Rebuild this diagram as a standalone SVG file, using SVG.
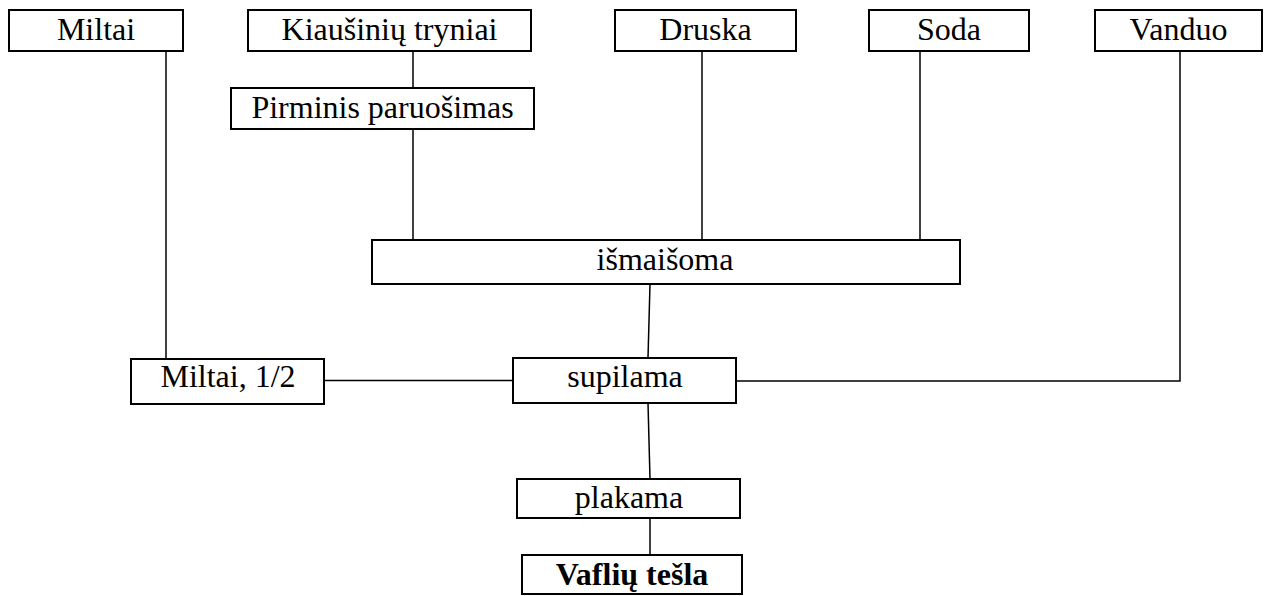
<svg xmlns="http://www.w3.org/2000/svg" width="1267" height="596" viewBox="0 0 1267 596">
<style>
rect{fill:#fff;stroke:#000;stroke-width:2}
text{font-family:"Liberation Serif","Times New Roman",serif;font-size:32px;fill:#000;text-anchor:middle}
.b{font-weight:bold}
#connectors line,#connectors polyline{stroke:#000;stroke-width:1.5;fill:none}
</style>
<rect x="0" y="0" width="1267" height="596" style="fill:#fff;stroke:none"/>
<g id="connectors">
<line x1="166" y1="51" x2="166" y2="359"/>
<line x1="413" y1="51" x2="413" y2="88"/>
<line x1="413" y1="129" x2="413" y2="244"/>
<line x1="702" y1="51" x2="702" y2="244"/>
<line x1="920" y1="51" x2="920" y2="244"/>
<polyline points="1180,51 1180,381 736,381"/>
<line x1="650" y1="284" x2="648" y2="358"/>
<line x1="324" y1="380.5" x2="513" y2="380.5"/>
<line x1="648" y1="403" x2="650" y2="479"/>
<line x1="650" y1="518" x2="650" y2="555"/>
</g>
<g id="n-miltai"><rect x="9" y="10" width="174" height="41"/><text x="96" y="40">Miltai</text></g>
<g id="n-kiausiniu"><rect x="248" y="10" width="283" height="41"/><text x="389.5" y="40">Kiaušinių tryniai</text></g>
<g id="n-druska"><rect x="615" y="10" width="181" height="41"/><text x="705.5" y="40">Druska</text></g>
<g id="n-soda"><rect x="869" y="10" width="160" height="41"/><text x="949" y="40">Soda</text></g>
<g id="n-vanduo"><rect x="1095" y="10" width="167" height="41"/><text x="1178.5" y="40">Vanduo</text></g>
<g id="n-pirminis"><rect x="231" y="88" width="303" height="41"/><text x="382.5" y="118">Pirminis paruošimas</text></g>
<g id="n-ismaisoma"><rect x="372" y="240" width="588" height="44"/><text x="665" y="270">išmaišoma</text></g>
<g id="n-miltai-half"><rect x="131" y="359" width="193" height="45"/><text x="228" y="387">Miltai, 1/2</text></g>
<g id="n-supilama"><rect x="513" y="358" width="223" height="45"/><text x="625" y="387">supilama</text></g>
<g id="n-plakama"><rect x="517" y="479" width="223" height="39"/><text x="629" y="508">plakama</text></g>
<g id="n-vafliu"><rect x="522" y="555" width="220" height="39"/><text class="b" x="632" y="585">Vaflių tešla</text></g>
</svg>
